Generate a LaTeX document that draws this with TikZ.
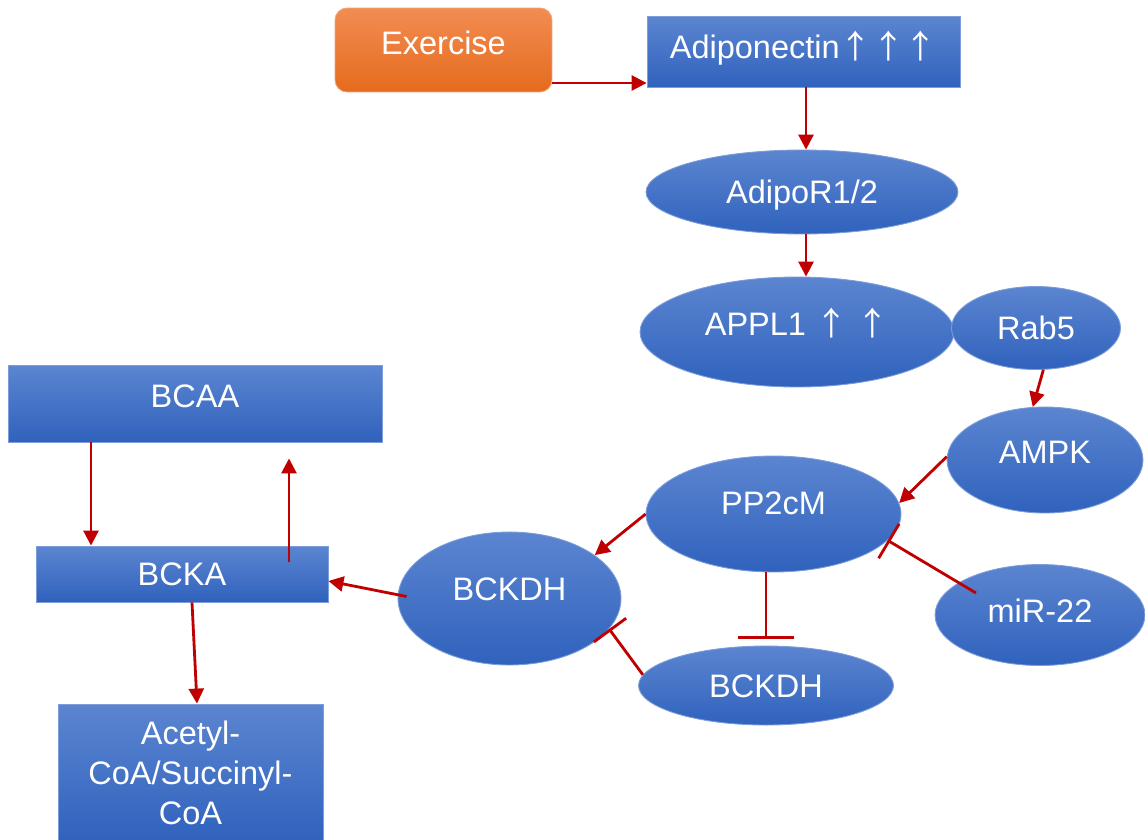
\documentclass[tikz,border=0pt]{standalone}
\usepackage{fontspec}
\setmainfont{Liberation Sans}
\newfontfamily\cjk{Noto Sans CJK SC}
\usetikzlibrary{arrows.meta,shapes.geometric,calc}
\definecolor{nodetop}{HTML}{5B85D0}
\definecolor{nodebot}{HTML}{3062BD}
\definecolor{nodeline}{HTML}{7C9DDA}
\definecolor{exertop}{HTML}{F28C52}
\definecolor{exerbot}{HTML}{E56B1D}
\definecolor{exerline}{HTML}{F4A474}
\definecolor{linkred}{HTML}{C00000}
\newcommand{\upar}{{\cjk ↑}}

\begin{document}
\begin{tikzpicture}[
   x=0.02cm, y=-0.02cm,
   font=\fontsize{18.5}{22.8}\selectfont,
   blk/.style={text=white, top color=nodetop, bottom color=nodebot, draw=nodeline, line width=0.5pt, inner sep=2pt},
   rbox/.style={blk, rectangle},
   oval/.style={blk, ellipse},
   lift/.style={text height=0.48cm, text depth=#1},
   act/.style={draw=linkred, line width=1.6pt, -{Triangle[length=0.3cm, width=0.3cm]}},
   inh/.style={draw=linkred, line width=1.6pt}]
   \useasboundingbox (0,0) rectangle (1145,839);
   % top row
   \node[blk, rounded corners=0.24cm, top color=exertop, bottom color=exerbot, draw=exerline,
         minimum width=4.34cm, minimum height=1.68cm, lift=0.294cm] (exer) at (443.5,50) {Exercise};
   \node[rbox, minimum width=6.26cm, minimum height=1.42cm, lift=0.214cm] (adipo) at (803.5,51.5) {Adiponectin\upar\upar\upar};
   % receptor side
   \node[oval, minimum width=6.24cm, minimum height=1.68cm, lift=0.014cm] (adipor) at (802,192) {AdipoR1/2};
   \node[oval, minimum width=6.28cm, minimum height=2.2cm, lift=0.334cm] (appl) at (797,332) {APPL1 \upar\ \upar};
   \node[oval, minimum width=3.38cm, minimum height=1.66cm, lift=0.014cm] (rab) at (1036,328) {Rab5};
   \node[oval, minimum width=3.92cm, minimum height=2.12cm, lift=0.334cm] (ampk) at (1045,460) {AMPK};
   \node[oval, minimum width=5.1cm, minimum height=2.32cm, lift=0.454cm] (pp2) at (773.5,514) {PP2cM};
   \node[oval, minimum width=4.2cm, minimum height=2.02cm, lift=0.174cm] (mir) at (1040,615) {miR-22};
   \node[oval, minimum width=4.46cm, minimum height=2.66cm, lift=0.414cm] (bck) at (509.5,598.5) {BCKDH};
   \node[oval, minimum width=5.1cm, minimum height=1.58cm, lift=0.014cm] (bck2) at (766,685.5) {BCKDH};
   % amino acid side
   \node[rbox, minimum width=7.48cm, minimum height=1.54cm, lift=0.334cm] (bcaa) at (195,403.5) {BCAA};
   \node[rbox, minimum width=5.84cm, minimum height=1.12cm, lift=0.014cm] (bcka) at (182,574) {BCKA};
   \node[rbox, minimum width=5.3cm, minimum height=2.76cm, align=center] (acet) at (190.5,773) {Acetyl-\\CoA/Succinyl-\\CoA};

   \draw[act] (exer.east |- 0,83) -- (adipo.west |- 0,83);
   \draw[act] (adipo.south -| 806,0) -- (adipor.north -| 806,0);
   \draw[act] (adipor.south -| 806,0) -- (appl.north -| 806,0);
   \draw[act] (rab.-80) -- (ampk.103);
   \draw[act] (ampk.178) -- (pp2.5);
   \draw[act] (pp2.west) -- (bck.27);
   \draw[act] ($(bck.west)+(9,-2)$) -- (bcka.east |- 0,581);
   \draw[act] (bcaa.south -| 91,0) -- (bcka.north -| 91,0);
   \draw[act] ($(bcka.north -| 289,0)+(0,16)$) -- ($(bcaa.south -| 289,0)+(0,16)$);
   \draw[act] (bcka.south -| 192,0) -- (acet.north -| 197,0);
   \draw[inh, -{Bar[width=1.12cm]}] (pp2.south -| bck2.north) -- ($(bck2.north)+(0,-7)$);
   \draw[inh, -{Bar[width=0.8cm]}] ($(mir)+(-64,-22)$) -- (pp2.-13);
   \draw[inh, -{Bar[width=0.8cm]}] (bck2.175) -- (bck.-17);
\end{tikzpicture}
\end{document}
